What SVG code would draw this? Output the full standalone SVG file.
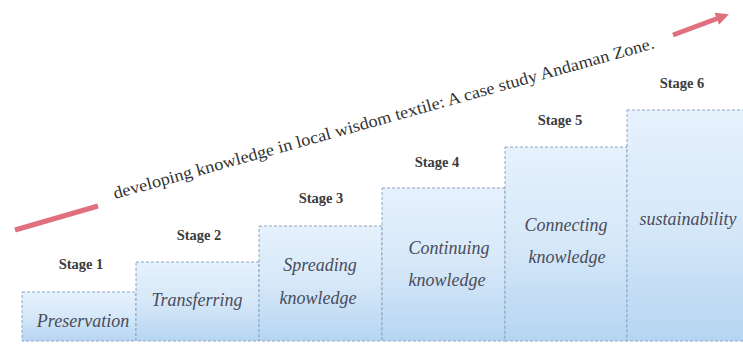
<svg xmlns="http://www.w3.org/2000/svg" width="743" height="344" viewBox="0 0 743 344">
<defs>
<linearGradient id="fill" x1="0" y1="0" x2="0" y2="1">
<stop offset="0" stop-color="#e6f1fc"/>
<stop offset="0.5" stop-color="#d6e8f8"/>
<stop offset="1" stop-color="#b6d5f2"/>
</linearGradient>
<marker id="head" viewBox="0 0 10 10" refX="6" refY="5" markerWidth="2.6" markerHeight="2.6" orient="auto">
<path d="M0,0 L10,5 L0,10 z" fill="#e0707e"/>
</marker>
</defs>
<style>
.box{fill:url(#fill);stroke:#8aa6c6;stroke-width:1;stroke-dasharray:3 2}
.stage{font-family:'Liberation Serif','Times New Roman','DejaVu Serif',serif;font-weight:bold;font-size:14.5px;fill:#3c3c3c;text-anchor:middle}
.lbl{font-family:'Liberation Serif','Times New Roman','DejaVu Serif',serif;font-style:italic;font-size:18px;fill:#4a4c5c;text-anchor:middle}
.title{font-family:'Liberation Serif','Times New Roman','DejaVu Serif',serif;font-size:17px;fill:#333}
.red{stroke:#e0707e;stroke-width:5;fill:none;stroke-linecap:butt}
</style>
<rect width="743" height="344" fill="#ffffff"/>
<g id="connectors">
<line class="red" x1="15" y1="230" x2="98" y2="206"/>
<line class="red" x1="673" y1="35" x2="724" y2="16" marker-end="url(#head)"/>
</g>
<text class="title" x="115" y="199" transform="rotate(-15.6 115 199)" textLength="561" lengthAdjust="spacingAndGlyphs">developing knowledge in local wisdom textile: A case study Andaman Zone.</text>
<g id="stage1">
<rect class="box" x="22" y="292" width="114" height="49"/>
<text class="stage" x="81" y="269">Stage 1</text>
<text class="lbl" x="83" y="327">Preservation</text>
</g>
<g id="stage2">
<rect class="box" x="136" y="262" width="123" height="79"/>
<text class="stage" x="199" y="240">Stage 2</text>
<text class="lbl" x="197" y="306">Transferring</text>
</g>
<g id="stage3">
<rect class="box" x="259" y="226" width="123" height="115"/>
<text class="stage" x="321" y="203">Stage 3</text>
<text class="lbl" x="320" y="271">Spreading</text>
<text class="lbl" x="318" y="304">knowledge</text>
</g>
<g id="stage4">
<rect class="box" x="382" y="188" width="123" height="153"/>
<text class="stage" x="437" y="167">Stage 4</text>
<text class="lbl" x="449" y="254">Continuing</text>
<text class="lbl" x="447" y="286">knowledge</text>
</g>
<g id="stage5">
<rect class="box" x="505" y="147" width="122" height="194"/>
<text class="stage" x="560" y="125">Stage 5</text>
<text class="lbl" x="566" y="231">Connecting</text>
<text class="lbl" x="567" y="263">knowledge</text>
</g>
<g id="stage6">
<rect class="box" x="627" y="110" width="120" height="231"/>
<text class="stage" x="682" y="88">Stage 6</text>
<text class="lbl" x="688" y="225">sustainability</text>
</g>
</svg>
